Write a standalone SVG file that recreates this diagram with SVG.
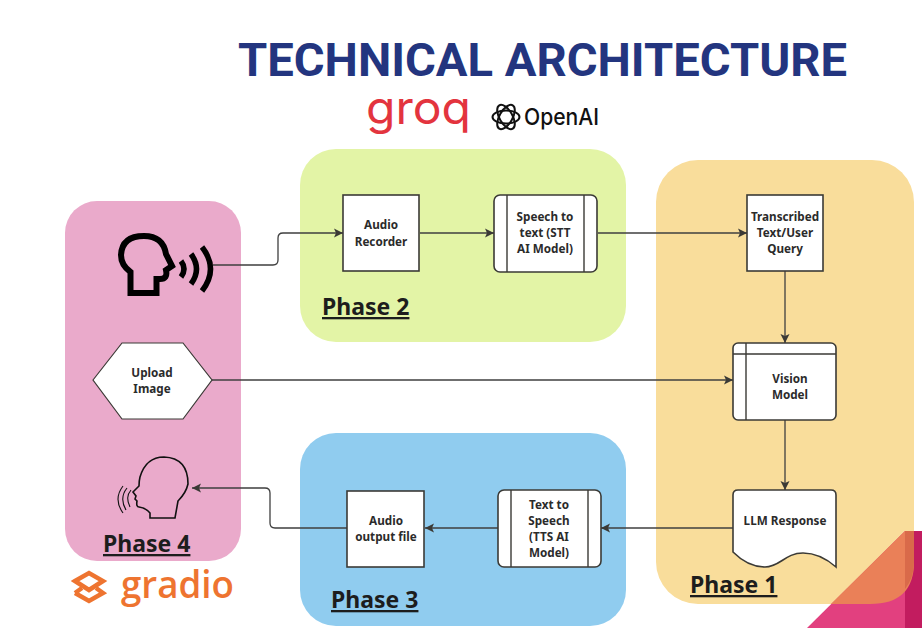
<svg xmlns="http://www.w3.org/2000/svg" width="922" height="628" viewBox="0 0 922 628">
<defs>
<marker id="arr" markerWidth="10" markerHeight="10" refX="9" refY="5" orient="auto" markerUnits="userSpaceOnUse"><path d="M0,0.5 L9,5 L0,9.5 L2,5 Z" fill="#3b3a36"/></marker>
</defs>
<style>
.box{fill:#fff;stroke:#3b3a36;stroke-width:1.6}
.in{fill:none;stroke:#3b3a36;stroke-width:1.4}
.t{font-family:"Noto Sans","Open Sans",sans-serif;font-weight:700;font-size:11.7px;fill:#2b2b2b;text-anchor:middle}
.ph{font-family:"Noto Sans","Open Sans",sans-serif;font-weight:700;font-size:23px;fill:#1d1d1d;text-decoration:underline}
.c{fill:none;stroke:#3f3f3f;stroke-width:1.3;marker-end:url(#arr)}
</style>
<rect width="922" height="628" fill="#fff"/>
<text x="238" y="76" font-family="Roboto,'Liberation Sans',sans-serif" font-weight="700" font-size="46.5px" fill="#23357f" textLength="609" lengthAdjust="spacingAndGlyphs">TECHNICAL ARCHITECTURE</text>
<g id="panels">
<rect id="panel-phase4" x="65" y="201" width="176" height="360" rx="32" fill="#eaaacb"/>
<rect id="panel-phase2" x="300" y="149" width="326" height="193" rx="36" fill="#e3f4a6"/>
<rect id="panel-phase3" x="300" y="433" width="326" height="193" rx="36" fill="#90ccef"/>
<rect id="panel-phase1" x="656" y="160" width="258" height="444" rx="42" fill="#f9dd9b"/>
</g>
<g id="corner">
<polygon points="807,628 905,531 922,531 922,628" fill="#e2407f"/>
<rect x="905" y="531" width="17" height="97" fill="#c21c5f"/>
<path d="M831,604 L905,531 L914,531 L914,562 Q914,604 870,604 Z" fill="#ea8058"/>
<path d="M905,531 L914,531 L914,562 Q914,578 905,589 Z" fill="#d96a4a"/>
</g>
<g id="logo-groq"><text x="366" y="124" font-family="Inter,'Noto Sans',sans-serif" font-weight="400" font-size="46px" fill="#e3343e" textLength="105" lengthAdjust="spacingAndGlyphs">groq</text></g>
<g id="logo-openai">
<g fill="none" stroke="#111" stroke-width="2"><ellipse cx="506" cy="117" rx="13.5" ry="6.5" transform="rotate(60 506 117)"/><ellipse cx="506" cy="117" rx="13.5" ry="6.5" transform="rotate(-60 506 117)"/><ellipse cx="506" cy="117" rx="13.5" ry="6.5"/></g>
<text x="524" y="125" font-family="Inter,'Liberation Sans',sans-serif" font-weight="500" font-size="23px" fill="#111" textLength="75" lengthAdjust="spacingAndGlyphs">OpenAI</text>
</g>
<g id="logo-gradio">
<g fill="none" stroke="#ee7430" stroke-width="4.5" stroke-linejoin="miter"><path d="M75,581 L89,573 L103,581 L89,590 Z"/><path d="M75,593 L89,601 L103,593 L96,588 M82,588 L75,593"/></g>
<text x="121" y="598" font-family="'Open Sans','Noto Sans',sans-serif" font-weight="600" font-size="38px" fill="#ee7430" textLength="113" lengthAdjust="spacingAndGlyphs">gradio</text>
</g>
<g id="connectors">
<path class="c" d="M213,265 H273 Q278,265 278,260 V238 Q278,233 283,233 H343"/>
<path class="c" d="M420,233 H494"/>
<path class="c" d="M598,233 H747"/>
<path class="c" d="M785,271 V343"/>
<path class="c" d="M212,380 H733"/>
<path class="c" d="M785,420 V490"/>
<path class="c" d="M733,528 H601"/>
<path class="c" d="M498,528 H425"/>
<path class="c" d="M347,528 H275 Q270,528 270,523 V493 Q270,488 265,488 H192"/>
</g>
<g id="node-speaker">
<path d="M130.5,293 V272 Q121,265 121,255 Q122,236 144,236 Q163,236 166,254 L172,266 L166,270 Q168,279 160,279 H156.5 V293 Z" fill="none" stroke="#000" stroke-width="6"/>
<g fill="none" stroke="#000" stroke-width="5.5"><path d="M181,261 Q187,269 181,277"/><path d="M191,254 Q202,269 191,284"/><path d="M202,247 Q219,269 202,291"/></g>
</g>
<g id="node-audio-recorder"><rect class="box" x="343" y="195" width="76" height="76"/><text class="t" x="381" y="229">Audio</text><text class="t" x="381" y="245.5">Recorder</text></g>
<g id="node-stt"><rect class="box" x="494" y="195" width="103" height="77" rx="6"/><path class="in" d="M507,195 V272 M584,195 V272"/><text class="t" x="545" y="221">Speech to</text><text class="t" x="545" y="237">text (STT</text><text class="t" x="545" y="253">AI Model)</text></g>
<g id="node-transcribed"><rect class="box" x="747" y="195" width="76" height="76"/><text class="t" x="785" y="221">Transcribed</text><text class="t" x="785" y="237">Text/User</text><text class="t" x="785" y="253">Query</text></g>
<g id="node-upload"><polygon class="box" points="93,380 122,343 183,343 212,380 183,419 122,419" style="stroke-width:1.2"/><text class="t" x="152" y="377">Upload</text><text class="t" x="152" y="393">Image</text></g>
<g id="node-vision"><rect class="box" x="733" y="343" width="103" height="77" rx="5"/><path class="in" d="M733,354 H836 M746,343 V420"/><text class="t" x="790" y="383">Vision</text><text class="t" x="790" y="399">Model</text></g>
<g id="node-llm"><path class="box" d="M733,552 V495 Q733,490 738,490 H831 Q836,490 836,495 V567 C828,560 818,553 803,553 C785,553 780,567 765,567 C755,567 745,564 733,552 Z"/><text class="t" x="785" y="525">LLM Response</text></g>
<g id="node-tts"><rect class="box" x="498" y="490" width="103" height="77" rx="6"/><path class="in" d="M511,490 V567 M588,490 V567"/><text class="t" x="549" y="509">Text to</text><text class="t" x="549" y="525">Speech</text><text class="t" x="549" y="541">(TTS AI</text><text class="t" x="549" y="557">Model)</text></g>
<g id="node-audio-output"><rect class="box" x="347" y="491" width="77" height="76"/><text class="t" x="386" y="525">Audio</text><text class="t" x="386" y="541">output file</text></g>
<g id="node-listener"><path d="M150,518 V513 Q146,508 139,507 Q136,507 137,501 L135,499 L136,496 L133,492 L139,486 Q139,481 140,477 Q146,457 164,457 Q188,458 188,484 Q186,493 178,501 L175,518 Z" fill="none" stroke="#111" stroke-width="1.6"/><g fill="none" stroke="#111" stroke-width="1.1"><path d="M131,490 Q125,497 130,507"/><path d="M127,488 Q119,498 126,510"/><path d="M123,486 Q113,499 123,513"/></g></g>
<g id="labels">
<text class="ph" x="322" y="315">Phase 2</text>
<text class="ph" x="690" y="593">Phase 1</text>
<text class="ph" x="331" y="608">Phase 3</text>
<text class="ph" x="103" y="552">Phase 4</text>
</g>
</svg>
